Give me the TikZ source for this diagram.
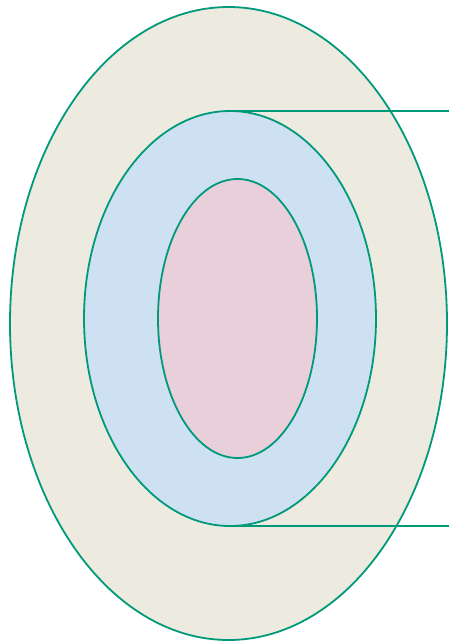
\documentclass[tikz,border=0pt]{standalone}
\usetikzlibrary{shapes.geometric}
\definecolor{teal1}{HTML}{00997A}
\definecolor{beige1}{HTML}{EDEBE0}
\definecolor{blue1}{HTML}{CEE1F2}
\definecolor{pink1}{HTML}{E8CFDA}
\begin{document}
\begin{tikzpicture}[x=1pt,y=-1pt,
  ring/.style={ellipse,draw=teal1,line width=1.8pt,inner sep=0pt,outer sep=0pt},
  lead/.style={draw=teal1,line width=1.8pt}]
\useasboundingbox (0,0) rectangle (448,641);
\node[ring,fill=beige1,minimum width=437pt,minimum height=633pt] (outer) at (228.5,323.5) {};
\node[ring,fill=blue1,minimum width=292pt,minimum height=415pt] (mid) at (230,318.5) {};
\node[ring,fill=pink1,minimum width=159pt,minimum height=279pt] (inner) at (237.5,318.5) {};
\coordinate (rt) at (449,111);
\coordinate (rb) at (449,526);
\draw[lead] (mid.north) -- (mid.north -| rt);
\draw[lead] (mid.south) -- (mid.south -| rb);
\end{tikzpicture}
\end{document}
